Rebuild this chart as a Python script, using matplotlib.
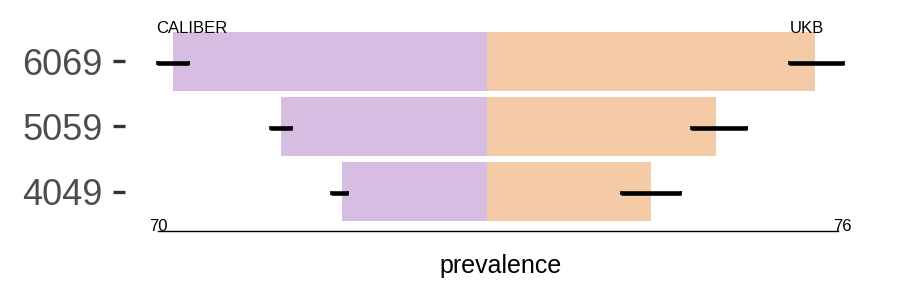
import matplotlib
matplotlib.use("Agg")
import matplotlib.pyplot as plt
import numpy as np

plt.rcParams['font.family'] = ['Liberation Sans', 'DejaVu Sans']

# age groups, bottom to top
groups = ['4049', '5059', '6069']

# CALIBER (drawn to the left)
caliber = [31.2, 44.3, 67.6]
caliber_lo = [29.9, 42.0, 64.2]
caliber_hi = [33.6, 46.7, 71.0]

# UKB (drawn to the right)
ukb = [35.3, 49.3, 70.6]
ukb_lo = [28.8, 43.9, 65.0]
ukb_hi = [41.8, 56.0, 76.9]

# axis end labels
left_max = 70
right_max = 76

purple = '#D7BDE2'
orange = '#F5CBA7'

fig = plt.figure(figsize=(9, 3), dpi=100)
ax = fig.add_axes([125 / 900, 65 / 300, 752 / 900, 215 / 300])

y = np.arange(len(groups))
cal = np.array(caliber)
uk = np.array(ukb)

ax.barh(y, -cal, height=0.9, color=purple, linewidth=0)
ax.barh(y, uk, height=0.9, color=orange, linewidth=0)

# error bars
cal_err = [np.array(caliber_hi) - cal, cal - np.array(caliber_lo)]
uk_err = [uk - np.array(ukb_lo), np.array(ukb_hi) - uk]
ax.errorbar(-cal, y - 0.02, xerr=cal_err, fmt='none', ecolor='black',
            elinewidth=3.3, capsize=1.5, capthick=1.2)
ax.errorbar(uk, y - 0.02, xerr=uk_err, fmt='none', ecolor='black',
            elinewidth=3.3, capsize=1.5, capthick=1.2)

# bottom axis line with end labels
line_y = -0.608
ax.plot([-left_max - 0.7, right_max - 0.4], [line_y, line_y], color='black', lw=1)
ax.text(-left_max - 0.7, line_y, str(left_max), fontsize=12, ha='center', va='baseline')
ax.text(right_max + 0.6, line_y, str(right_max), fontsize=12, ha='center', va='baseline')

# dataset labels
ax.text(-63.6, 2.5, 'CALIBER', fontsize=12, ha='center', va='center')
ax.text(68.9, 2.5, 'UKB', fontsize=12, ha='center', va='center')

ax.set_xlim(-77.9, 83.96)
ax.set_ylim(-0.669, 2.638)
ax.set_yticks(y)
ax.set_yticklabels(groups)
ax.set_xticks([])
ax.tick_params(axis='y', length=9, width=2.4, color='#333333',
               labelsize=26, labelcolor='#4d4d4d', pad=7)
for s in ax.spines.values():
    s.set_visible(False)

fig.text(501 / 900, 1 - 266 / 300, 'prevalence', fontsize=18,
         ha='center', va='center')

fig.savefig('out.png', dpi=100)
